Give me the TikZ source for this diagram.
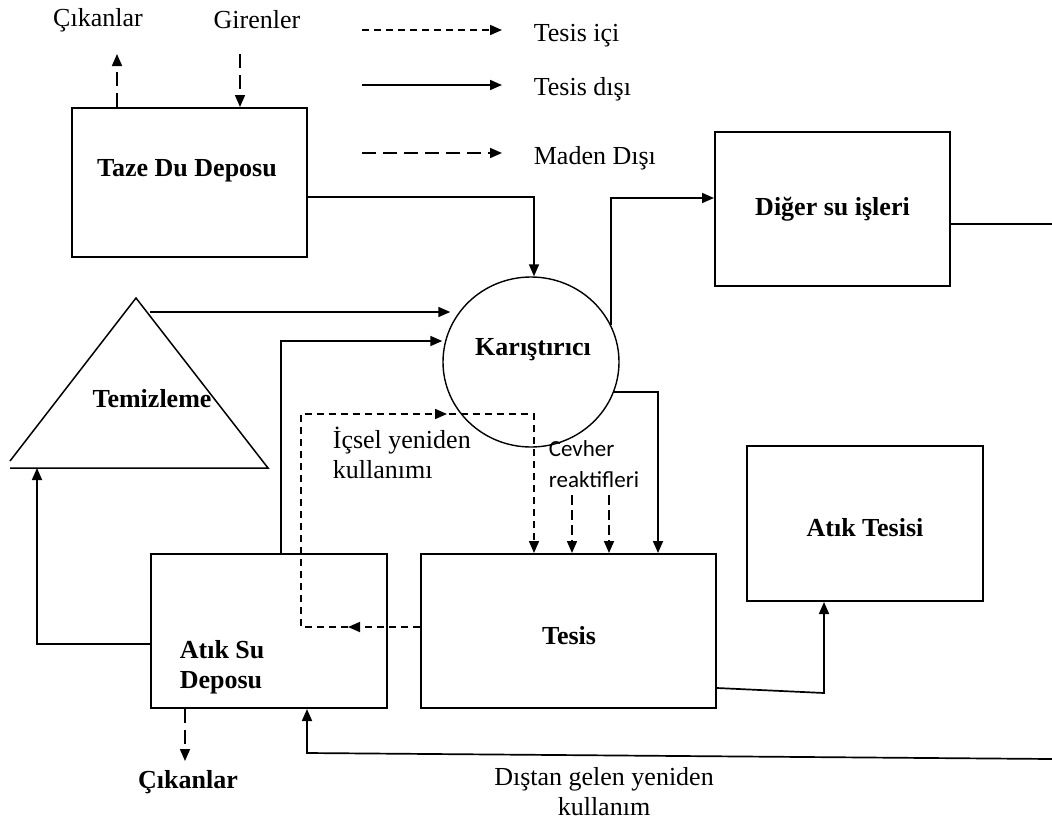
\documentclass[tikz,border=0pt]{standalone}
\usepackage{fontspec}
\setmainfont{Liberation Serif}
\newfontfamily\calib{Carlito}
\usetikzlibrary{arrows.meta,shapes.geometric,calc,decorations.markings}
\begin{document}
\begin{tikzpicture}[x=1pt,y=-1pt,
  line width=1.7pt,
  tip/.tip={Triangle[length=12pt,width=10pt]},
  box/.style={draw,line width=2pt,rectangle,inner sep=0pt},
  boldlbl/.style={font=\bfseries\fontsize{26}{30}\selectfont,inner sep=0pt},
  plainlbl/.style={font=\fontsize{26}{30}\selectfont,inner sep=0pt,align=center},
  sanslbl/.style={font=\calib\fontsize{23}{31}\selectfont,inner sep=0pt,align=left},
  shortdash/.style={dash pattern=on 7pt off 5pt},
  longdash/.style={dash pattern=on 14pt off 7pt},
  middash/.style={dash pattern=on 10pt off 5pt}]
\useasboundingbox (0,0) rectangle (1052,825);

% ---- legend ----
\coordinate (l1a) at (362,30);  \coordinate (l1b) at (502,30);
\coordinate (l2a) at (362,85);  \coordinate (l2b) at (502,85);
\coordinate (l3a) at (362,153); \coordinate (l3b) at (502,153);
\draw[shortdash,-tip] (l1a) -- (l1b);
\draw[-tip] (l2a) -- (l2b);
\draw[longdash,-tip] (l3a) -- (l3b);
\node[plainlbl,anchor=west] (leg1) at (533,36) {Tesis içi};
\node[plainlbl,anchor=west] (leg2) at (533,89) {Tesis dışı};
\node[plainlbl,anchor=west] (leg3) at (533,158) {Maden Dışı};

% ---- boxes ----
\node[box,minimum width=235pt,minimum height=149pt] (taze) at (189.5,182.5) {};
\node[boldlbl] (tazetxt) at (187,171) {Taze Du Deposu};

\node[box,minimum width=235pt,minimum height=154pt,boldlbl] (diger) at (832.5,209) {Diğer su işleri};

\node[draw,ellipse,line width=1.4pt,minimum width=176pt,minimum height=170pt,inner sep=0pt] (karis) at (531,362) {};
\node[boldlbl] (karistxt) at (533,350) {Karıştırıcı};

\node[box,minimum width=236pt,minimum height=154pt] (atiksu) at (269,631) {};
\node[boldlbl,anchor=west,align=left] (atiksutxt) at (179,667) {Atık Su\\Deposu};

\node[box,minimum width=295pt,minimum height=154pt] (tesis) at (568.5,631) {};
\node[boldlbl] (tesistxt) at (569,636) {Tesis};

\node[box,minimum width=236pt,minimum height=155pt] (atiktes) at (865,523.5) {};
\node[boldlbl] (atiktestxt) at (865,528) {Atık Tesisi};

% ---- cleaning triangle ----
\coordinate (tzL) at (10,461);
\coordinate (tzA) at (136,298);
\coordinate (tzR) at (268,468);
\coordinate (tzB) at (10,468);
\draw[line width=1.5pt] (tzL) -- (tzA) -- (tzR) -- (tzB);
\node[boldlbl] (temiztxt) at (152,399) {Temizleme};

% ---- top labels ----
\node[plainlbl] (cik1) at (98,20) {Çıkanlar};
\node[plainlbl] (gir) at (257,20) {Girenler};
\draw[longdash,-tip] ([xshift=46pt]taze.north west) -- ++(0,-53);
\draw[longdash,-tip] ([xshift=169pt]taze.north west) ++(0,-53) -- ([xshift=169pt]taze.north west);

% ---- main connectors ----
\draw[-tip] ([yshift=-14.5pt]taze.east) -| ([xshift=3pt]karis.north);
\coordinate (tzout) at (150,312);
\draw[-tip] (tzout) -- ($(tzout -| karis.west)+(8,0)$);
\draw[-tip] ([xshift=12pt]atiksu.north) |- ($(karis.west)+(0,-21)$);
\draw[-tip] (karis.25) |- ([yshift=11pt]diger.west);
\draw[-tip] (karis.-20) -| ([xshift=89.5pt]tesis.north);

% reagents
\node[sanslbl,anchor=west] (cevher) at (548,464) {Cevher\\reaktifleri};
\draw[middash,-tip] ([xshift=3.5pt]tesis.north) ++(0,-58) -- ([xshift=3.5pt]tesis.north);
\draw[middash,-tip] ([xshift=40.5pt]tesis.north) ++(0,-58) -- ([xshift=40.5pt]tesis.north);

% internal reuse loop
\coordinate (lpA) at (301,627);
\coordinate (lpB) at (301,414);
\coordinate (lpC) at (534,414);
\draw[shortdash,-tip,
  postaction={decorate,decoration={markings,
    mark=at position 72pt with {\arrow{tip}},
    mark=at position 478pt with {\arrow{tip}}}}]
  (tesis.west |- lpA) -- (lpA) -- (lpB) -- (lpC) -- (lpC |- tesis.north);
\node[plainlbl,align=left,anchor=west] (icsel) at (332,453) {İçsel yeniden\\kullanımı};

% plant to waste facility
\coordinate (atk) at (824,693);
\draw[-tip] ([yshift=-57pt]tesis.east) -- (atk) -- ([xshift=-41pt]atiktes.south);

% waste water to cleaning
\coordinate (tzin) at (37,468);
\draw[-tip] ([yshift=-13pt]atiksu.west) -| (tzin);

% outputs below waste water tank
\draw[longdash,-tip] ([xshift=-84pt]atiksu.south) -- ++(0,52);
\node[boldlbl] (cik2) at (188,782) {Çıkanlar};

% external reuse
\coordinate (dgr) at (1052,224);
\draw (diger.east |- dgr) -- (dgr);
\coordinate (ext) at (1052,759);
\coordinate (extb) at (307,753);
\draw[-tip] (ext) -- (extb) -- (extb |- atiksu.south);
\node[plainlbl] (distan) at (604,792) {Dıştan gelen yeniden\\kullanım};
\end{tikzpicture}
\end{document}
